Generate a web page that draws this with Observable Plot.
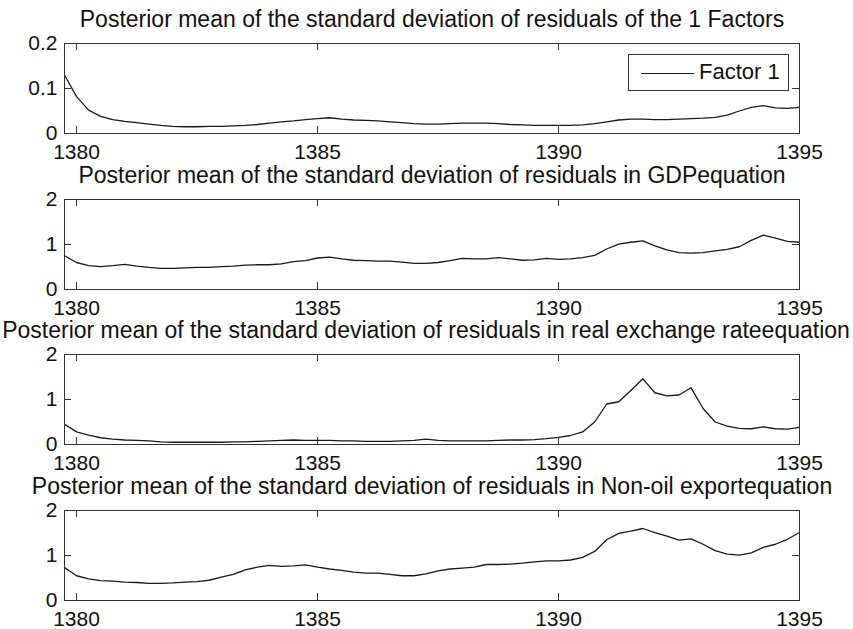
<!DOCTYPE html>
<html>
<head>
<meta charset="utf-8">
<script src="https://cdn.jsdelivr.net/npm/d3@7"></script>
<script src="https://cdn.jsdelivr.net/npm/@observablehq/plot@0.6"></script>
<style>
  html, body { margin: 0; padding: 0; background: #fff; }
  #wrap { position: relative; width: 853px; height: 629px; overflow: hidden; font-family: "Liberation Sans", Arial, sans-serif; }
  .panel { position: absolute; left: 0; }
  #legend { position: absolute; left: 628px; top: 54px; width: 159px; height: 35px; border: 1px solid #333; background: #fff; box-sizing: content-box; }
  #legend .ln { position: absolute; left: 12px; top: 18px; width: 53px; border-top: 1.3px solid #222; }
  #legend .tx { position: absolute; left: 70px; top: 4px; font-size: 22px; line-height: 26px; color: #111; }
</style>
</head>
<body>
<div id="wrap"></div>
<script>
// quarterly time points
const quarters = [1379.75,1380,1380.25,1380.5,1380.75,1381,1381.25,1381.5,1381.75,1382,1382.25,1382.5,1382.75,1383,1383.25,1383.5,1383.75,1384,1384.25,1384.5,1384.75,1385,1385.25,1385.5,1385.75,1386,1386.25,1386.5,1386.75,1387,1387.25,1387.5,1387.75,1388,1388.25,1388.5,1388.75,1389,1389.25,1389.5,1389.75,1390,1390.25,1390.5,1390.75,1391,1391.25,1391.5,1391.75,1392,1392.25,1392.5,1392.75,1393,1393.25,1393.5,1393.75,1394,1394.25,1394.5,1394.75,1395];

const factor1 = [0.130,0.082,0.052,0.038,0.031,0.027,0.024,0.021,0.018,0.016,0.015,0.015,0.016,0.016,0.017,0.018,0.020,0.023,0.026,0.028,0.031,0.033,0.035,0.032,0.030,0.029,0.028,0.026,0.024,0.022,0.021,0.021,0.022,0.023,0.023,0.023,0.022,0.020,0.019,0.018,0.018,0.018,0.018,0.019,0.022,0.026,0.030,0.032,0.032,0.031,0.031,0.032,0.033,0.034,0.036,0.041,0.050,0.058,0.062,0.057,0.056,0.058];

const gdp = [0.75,0.60,0.53,0.51,0.53,0.56,0.52,0.49,0.47,0.47,0.48,0.49,0.49,0.51,0.52,0.54,0.55,0.55,0.57,0.62,0.64,0.70,0.72,0.68,0.65,0.64,0.63,0.63,0.61,0.58,0.58,0.60,0.64,0.69,0.68,0.68,0.71,0.68,0.65,0.66,0.69,0.67,0.68,0.71,0.76,0.90,1.01,1.05,1.08,0.97,0.88,0.82,0.81,0.82,0.86,0.89,0.95,1.09,1.21,1.14,1.07,1.05];

const rer = [0.45,0.28,0.21,0.15,0.12,0.10,0.09,0.08,0.06,0.05,0.05,0.05,0.05,0.05,0.06,0.06,0.07,0.08,0.09,0.10,0.09,0.09,0.09,0.08,0.08,0.07,0.07,0.07,0.08,0.09,0.12,0.09,0.08,0.08,0.08,0.08,0.09,0.10,0.10,0.11,0.13,0.16,0.20,0.28,0.50,0.90,0.95,1.20,1.46,1.15,1.08,1.10,1.26,0.80,0.50,0.41,0.36,0.35,0.39,0.35,0.34,0.38];

const nonoil = [0.73,0.55,0.48,0.44,0.43,0.41,0.40,0.38,0.38,0.39,0.41,0.42,0.45,0.52,0.58,0.68,0.74,0.78,0.76,0.77,0.79,0.74,0.70,0.67,0.63,0.61,0.61,0.58,0.55,0.55,0.59,0.66,0.70,0.72,0.74,0.80,0.80,0.81,0.83,0.86,0.88,0.88,0.90,0.96,1.09,1.35,1.49,1.54,1.60,1.51,1.43,1.34,1.37,1.25,1.11,1.03,1.01,1.06,1.18,1.25,1.36,1.51];

const titles = [
  "Posterior mean of the standard deviation of residuals of the 1 Factors",
  "Posterior mean of the standard deviation of residuals in GDPequation",
  "Posterior mean of the standard deviation of residuals in real exchange rateequation",
  "Posterior mean of the standard deviation of residuals in Non-oil exportequation"
];
const xTicks = [1380, 1385, 1390, 1395];
const yTicksFactor = [0, 0.1, 0.2];
const yTicksEq = [0, 1, 2];
const yTickLabelsFactor = ["0", "0.1", "0.2"];
const yTickLabelsEq = ["0", "1", "2"];
const legendLabel = "Factor 1";

const panels = [
  {title: titles[0], values: factor1, yDomain: [0, 0.2], yTicks: yTicksFactor, yLabels: yTickLabelsFactor, tdx: 0},
  {title: titles[1], values: gdp, yDomain: [0, 2], yTicks: yTicksEq, yLabels: yTickLabelsEq, tdx: 0},
  {title: titles[2], values: rer, yDomain: [0, 2], yTicks: yTicksEq, yLabels: yTickLabelsEq, tdx: -6},
  {title: titles[3], values: nonoil, yDomain: [0, 2], yTicks: yTicksEq, yLabels: yTickLabelsEq, tdx: 0}
];

const wrap = document.getElementById("wrap");
const font = "Liberation Sans, Arial, sans-serif";

panels.forEach((p, i) => {
  const data = quarters.map((t, k) => ({t, v: p.values[k]}));
  const fmtY = (d) => p.yLabels[p.yTicks.indexOf(d)];
  const chart = Plot.plot({
    width: 853,
    height: 156,
    marginLeft: 64,
    marginRight: 54,
    marginTop: 43,
    marginBottom: 23,
    style: {fontFamily: font, overflow: "visible", background: "transparent"},
    x: {domain: [1379.75, 1395], ticks: xTicks, label: null},
    y: {domain: p.yDomain, ticks: p.yTicks, label: null},
    marks: [
      Plot.axisX(xTicks, {tickSize: 0, tickPadding: 11, fontSize: 21, fill: "#111", label: null, tickFormat: d => String(d)}),
      Plot.axisY(p.yTicks, {tickSize: 0, tickPadding: 7, fontSize: 21, fill: "#111", label: null, tickFormat: fmtY}),
      Plot.tickX(xTicks, {x: d => d, insetTop: 83, stroke: "#333", strokeWidth: 1}),
      Plot.tickX(xTicks, {x: d => d, insetBottom: 83, stroke: "#333", strokeWidth: 1}),
      Plot.tickY(p.yTicks, {y: d => d, insetRight: 728, stroke: "#333", strokeWidth: 1}),
      Plot.tickY(p.yTicks, {y: d => d, insetLeft: 728, stroke: "#333", strokeWidth: 1}),
      Plot.line(data, {x: "t", y: "v", stroke: "#1a1a1a", strokeWidth: 1.3}),
      Plot.frame({stroke: "#333", strokeWidth: 1}),
      Plot.text([p.title], {frameAnchor: "top", text: d => d, dx: p.tdx, dy: -17, lineAnchor: "bottom", fontSize: 23, fill: "#111"})
    ]
  });
  chart.classList.add("panel");
  chart.style.top = (i * 155.5) + "px";
  wrap.appendChild(chart);
});

const leg = document.createElement("div");
leg.id = "legend";
leg.innerHTML = '<div class="ln"></div><div class="tx"></div>';
leg.querySelector(".tx").textContent = legendLabel;
wrap.appendChild(leg);
</script>
</body>
</html>
